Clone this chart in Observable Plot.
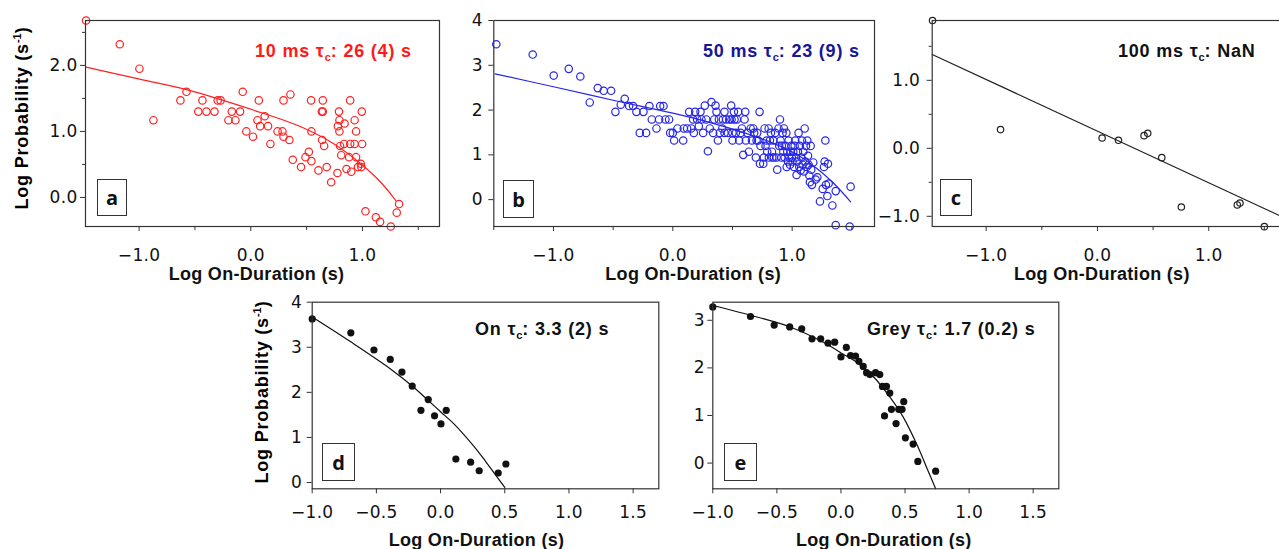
<!DOCTYPE html>
<html><head><meta charset="utf-8">
<script src="https://cdn.jsdelivr.net/npm/d3@7"></script>
<script src="https://cdn.jsdelivr.net/npm/@observablehq/plot@0.6"></script>
<style>
html,body{margin:0;padding:0;background:#fff;overflow:hidden}
#wrap{position:relative;width:1279px;height:549px;overflow:hidden;background:#fff}
.panel{position:absolute}
.panel svg{max-width:none !important}
.ann{position:absolute;font-family:"Liberation Sans",Arial,sans-serif;font-weight:bold;font-size:18px;line-height:18px;letter-spacing:0.8px;white-space:nowrap}
.ann sub{font-size:11px;line-height:0;vertical-align:-4px;letter-spacing:0}
.ytitle{position:absolute;font-family:"Liberation Sans",Arial,sans-serif;font-weight:bold;font-size:18px;line-height:18px;letter-spacing:0.8px;white-space:nowrap;transform:translate(-50%,-50%) rotate(-90deg)}
.ytitle sup{font-size:11px;line-height:0;vertical-align:7px;letter-spacing:0}
.lab{position:absolute;box-sizing:border-box;border:1.5px solid #333;background:#fff;font-family:"Open Sans",sans-serif;font-weight:bold;font-size:20px;display:flex;align-items:center;justify-content:center;color:#111}
</style></head>
<body><div id="wrap"></div>
<script>
// ---------- data ----------
const aPoints = [[-1.475,2.68],[-1.173,2.32],[-0.997,1.95],[-0.872,1.17],[-0.63,1.47],[-0.576,1.6],[-0.47,1.3],[-0.433,1.47],[-0.397,1.3],[-0.325,1.3],[-0.296,1.47],[-0.27,1.47],[-0.2,1.17],[-0.17,1.3],[-0.137,1.17],[-0.096,1.3],[-0.072,1.6],[-0.04,1.0],[0.02,0.92],[0.06,1.17],[0.072,1.47],[0.084,1.08],[0.125,1.23],[0.155,1.08],[0.176,0.81],[0.24,1.0],[0.284,1.0],[0.293,1.47],[0.293,0.92],[0.346,0.87],[0.355,1.56],[0.376,0.57],[0.45,0.46],[0.49,0.61],[0.52,0.69],[0.54,1.47],[0.543,1.0],[0.543,0.55],[0.606,0.41],[0.636,1.3],[0.645,1.3],[0.645,1.47],[0.639,0.87],[0.657,0.78],[0.68,0.46],[0.72,0.23],[0.776,0.37],[0.78,1.08],[0.79,1.3],[0.794,1.17],[0.794,1.0],[0.8,0.78],[0.81,0.64],[0.836,0.81],[0.84,1.12],[0.857,0.43],[0.88,0.61],[0.89,1.47],[0.89,0.81],[0.9,0.39],[0.93,1.17],[0.93,0.81],[0.943,1.0],[0.943,0.61],[0.96,0.46],[0.985,0.51],[0.99,0.46],[0.994,1.3],[0.997,0.81],[1.027,-0.21],[1.12,-0.3],[1.158,-0.37],[1.254,-0.44],[1.307,-0.23],[1.328,-0.1]];
const aFit = [[-1.475,1.975],[-1.045,1.81],[-0.567,1.63],[0.03,1.32],[0.448,1.07],[0.746,0.81],[0.985,0.51],[1.164,0.23],[1.30,-0.05]];

const bPoints = [[-1.479,3.47],[-1.174,3.24],[-0.998,2.77],[-0.872,2.92],[-0.775,2.75],[-0.696,2.17],[-0.629,2.49],[-0.579,2.43],[-0.517,2.43],[-0.481,1.96],[-0.436,2.12],[-0.403,2.25],[-0.366,2.09],[-0.333,2.09],[-0.305,1.96],[-0.277,1.49],[-0.246,1.96],[-0.224,1.49],[-0.196,2.09],[-0.176,1.79],[-0.137,1.59],[-0.115,1.79],[-0.106,2.09],[-0.078,2.09],[-0.062,1.79],[-0.031,1.79],[-0.022,1.49],[0.0,1.49],[0.011,1.32],[0.039,1.59],[0.087,1.32],[0.092,1.59],[0.12,1.59],[0.137,1.96],[0.154,1.59],[0.17,1.79],[0.176,1.49],[0.187,1.96],[0.204,1.79],[0.218,1.64],[0.232,1.96],[0.24,1.79],[0.254,1.49],[0.268,2.1],[0.28,1.79],[0.294,1.08],[0.31,1.59],[0.324,2.18],[0.338,1.49],[0.347,1.79],[0.358,2.1],[0.366,1.96],[0.378,1.32],[0.386,1.79],[0.394,1.49],[0.414,1.59],[0.42,1.79],[0.433,1.96],[0.433,1.49],[0.447,1.79],[0.461,1.49],[0.473,1.79],[0.489,2.1],[0.492,1.79],[0.5,1.49],[0.512,1.96],[0.517,1.79],[0.528,1.49],[0.537,1.79],[0.5,1.32],[0.548,1.96],[0.556,1.32],[0.568,1.49],[0.579,1.59],[0.59,1.0],[0.601,1.79],[0.607,1.96],[0.612,1.32],[0.626,1.49],[0.638,1.07],[0.652,1.59],[0.663,1.32],[0.674,1.59],[0.682,1.49],[0.696,0.94],[0.702,1.32],[0.707,1.49],[0.716,1.32],[0.727,1.96],[0.73,0.8],[0.735,1.2],[0.758,0.8],[0.763,0.94],[0.769,1.59],[0.777,1.2],[0.786,1.32],[0.791,1.07],[0.803,1.59],[0.805,0.94],[0.814,1.32],[0.822,1.49],[0.831,1.07],[0.833,0.94],[0.842,1.32],[0.847,0.94],[0.858,1.49],[0.87,0.94],[0.875,0.67],[0.886,1.59],[0.892,1.2],[0.898,1.79],[0.903,1.32],[0.909,0.94],[0.914,1.2],[0.92,1.49],[0.926,1.07],[0.931,1.59],[0.937,0.94],[0.945,1.2],[0.951,1.49],[0.954,0.73],[0.959,1.07],[0.965,0.85],[0.97,1.32],[0.976,0.94],[0.982,0.78],[0.987,1.07],[0.993,1.2],[0.998,0.94],[1.004,0.85],[1.009,1.07],[1.015,0.73],[1.021,1.2],[1.026,1.32],[1.032,0.94],[1.037,0.55],[1.043,0.85],[1.049,1.07],[1.054,1.49],[1.06,0.73],[1.065,1.2],[1.071,0.65],[1.077,0.94],[1.082,1.32],[1.088,0.78],[1.093,1.07],[1.099,0.63],[1.105,1.59],[1.11,0.85],[1.116,1.2],[1.121,0.73],[1.127,1.32],[1.133,0.98],[1.138,0.78],[1.144,0.54],[1.149,0.39],[1.155,1.2],[1.16,0.67],[1.166,0.33],[1.177,0.83],[1.197,0.45],[1.211,0.5],[1.233,-0.04],[1.256,0.24],[1.267,0.73],[1.272,0.85],[1.278,1.32],[1.283,0.33],[1.295,0.08],[1.3,0.8],[1.306,0.36],[1.337,-0.13],[1.365,0.19],[1.365,-0.57],[1.482,-0.6],[1.49,0.29]];
const bFit = [[-1.49,2.81],[-1.0,2.52],[-0.5,2.22],[0.0,1.93],[0.3,1.73],[0.6,1.49],[0.85,1.25],[1.05,0.99],[1.21,0.69],[1.35,0.36],[1.49,-0.05]];

const cPoints = [[-1.482,1.88],[-0.871,0.275],[0.042,0.152],[0.189,0.118],[0.419,0.186],[0.452,0.22],[0.578,-0.137],[0.754,-0.863],[1.257,-0.833],[1.281,-0.804],[1.5,-1.152]];
const cFit = [[-1.485,1.38],[1.69,-1.03]];

const dPoints = [[-1.0,3.63],[-0.699,3.32],[-0.519,2.94],[-0.392,2.73],[-0.301,2.45],[-0.221,2.14],[-0.153,1.6],[-0.096,1.84],[-0.047,1.48],[0.003,1.3],[0.044,1.6],[0.119,0.52],[0.234,0.45],[0.301,0.26],[0.449,0.21],[0.509,0.41]];
const dFit = [[-1.0,3.67],[-0.7,3.12],[-0.39,2.52],[-0.221,2.14],[-0.096,1.82],[0.0,1.57],[0.104,1.3],[0.26,0.8],[0.35,0.47],[0.5,-0.11]];

const ePoints = [[-1.0,3.28],[-0.706,3.08],[-0.521,2.9],[-0.4,2.86],[-0.306,2.82],[-0.226,2.61],[-0.158,2.61],[-0.101,2.52],[-0.049,2.54],[0.0,2.23],[0.042,2.43],[0.075,2.26],[0.114,2.25],[0.14,2.14],[0.174,2.03],[0.2,1.9],[0.226,1.86],[0.27,1.9],[0.303,1.86],[0.324,1.61],[0.355,1.61],[0.381,1.47],[0.34,0.99],[0.394,1.13],[0.43,0.83],[0.451,1.13],[0.477,1.13],[0.49,1.29],[0.503,0.53],[0.563,0.4],[0.6,0.035],[0.739,-0.17]];
const eFit = [[-1.0,3.31],[-0.656,3.07],[-0.397,2.86],[-0.137,2.54],[-0.008,2.33],[0.122,2.12],[0.252,1.82],[0.381,1.39],[0.485,0.97],[0.589,0.41],[0.667,-0.08],[0.739,-0.54]];

const xTitle = "Log On-Duration (s)";
const panelLetters = ["a","b","c","d","e"];
const annotations = [
  {pre:"10 ms τ", post:": 26 (4) s"},
  {pre:"50 ms τ", post:": 23 (9) s"},
  {pre:"100 ms τ", post:": NaN"},
  {pre:"On τ", post:": 3.3 (2) s"},
  {pre:"Grey τ", post:": 1.7 (0.2) s"}
];

// ---------- layout ----------
const wrap = document.getElementById("wrap");
const panels = [
  {pts:aPoints, fit:aFit, color:"#ff2020", fill:false, r:3.7, left:0, top:0, width:445, height:290, mL:85, mR:6, mT:20, mB:64,
   xd:[-1.48,1.69], yd:[-0.44,2.68], xMin:[-0.5,0.5,1.5], xMaj:[-1,0,1], yMin:[0.5,1.5,2.5], yMaj:[0,1,2], xFmt:".1f", yFmt:".1f", xPad:17, yPad:3, tdx:-6, tdy:53,
   ann:{x:255, y:42, color:"#ff1a1a"}, box:{x:97,y:179,w:30,h:37}},
  {pts:bPoints, fit:bFit, color:"#2626e8", fill:false, r:3.7, left:440, top:0, width:440, height:290, mL:53.3, mR:6, mT:20, mB:64,
   xd:[-1.5,1.69], yd:[-0.6,4.0], xMin:[-1.5,-0.5,0.5,1.5], xMaj:[-1,0,1], yMin:[], yMaj:[0,1,2,3,4], xFmt:".1f", yFmt:"d", xPad:17, yPad:6, tdx:9, tdy:53,
   ann:{x:703, y:42, color:"#161696"}, box:{x:503,y:180,w:31,h:38}},
  {pts:cPoints, fit:cFit, color:"#222", fill:false, r:3.2, left:860, top:0, width:430, height:290, mL:71.7, mR:5, mT:20, mB:64,
   xd:[-1.485,1.69], yd:[-1.15,1.88], xMin:[-0.5,0.5,1.5], xMaj:[-1,0,1], yMin:[-0.5,0.5,1.5], yMaj:[-1,0,1], xFmt:".1f", yFmt:".1f", xPad:17, yPad:7, tdx:-7, tdy:53,
   ann:{x:1118, y:42, color:"#111"}, box:{x:940,y:179,w:32,h:37}},
  {pts:dPoints, fit:dFit, color:"#111", fill:true, r:3.6, left:240, top:280, width:430, height:269, mL:71.7, mR:11.7, mT:21.7, mB:60.7,
   xd:[-1,1.7], yd:[-0.14,4], xMin:[], xMaj:[-1,-0.5,0,0.5,1,1.5], yMin:[], yMaj:[0,1,2,3,4], xFmt:".1f", yFmt:"d", xPad:12, yPad:5, tdx:-9, tdy:57,
   ann:{x:475, y:320, color:"#111"}, box:{x:322,y:443,w:33,h:38}},
  {pts:ePoints, fit:eFit, color:"#111", fill:true, r:3.6, left:680, top:280, width:400, height:269, mL:32.3, mR:21.7, mT:21.7, mB:60.7,
   xd:[-1,1.7], yd:[-0.54,3.38], xMin:[], xMaj:[-1,-0.5,0,0.5,1,1.5], yMin:[], yMaj:[0,1,2,3], xFmt:".1f", yFmt:"d", xPad:12, yPad:3, tdx:-2, tdy:57,
   ann:{x:867, y:320, color:"#111"}, box:{x:724,y:443,w:33,h:38}}
];

panels.forEach((p, i) => {
  const marks = [
    Plot.line(p.fit, {x: d => d[0], y: d => d[1], stroke: p.color, strokeWidth: 1.2, curve: "catmull-rom"}),
    Plot.dot(p.pts, {x: d => d[0], y: d => d[1], r: p.r,
      stroke: p.fill ? "none" : p.color, fill: p.fill ? p.color : "none", strokeWidth: 1.2}),
    Plot.frame({stroke: "#333", strokeWidth: 1.2}),
    Plot.axisX(p.xMaj, {tickSize: 5, tickPadding: p.xPad, tickFormat: d3.format(p.xFmt), label: null, fontSize: 17, stroke: "#333"}),
    Plot.axisY(p.yMaj, {tickSize: 5, tickPadding: p.yPad, tickFormat: d3.format(p.yFmt), label: null, fontSize: 17, stroke: "#333"}),
    Plot.text([xTitle], {text: d => d, frameAnchor: "bottom", dx: p.tdx, dy: p.tdy, fontWeight: "bold", fontSize: 18, fontFamily: "Liberation Sans, Arial, sans-serif", fill: "#111"})
  ];
  if (p.xMin.length) marks.push(Plot.axisX(p.xMin, {tickSize: 4, tickFormat: () => "", label: null, stroke: "#333"}));
  if (p.yMin.length) marks.push(Plot.axisY(p.yMin, {tickSize: 3, tickFormat: () => "", label: null, stroke: "#333"}));
  const svg = Plot.plot({
    width: p.width, height: p.height,
    marginLeft: p.mL, marginRight: p.mR, marginTop: p.mT, marginBottom: p.mB,
    x: {domain: p.xd}, y: {domain: p.yd},
    style: {background: "transparent", fontFamily: "DejaVu Sans, sans-serif", fontSize: "17px", color: "#111", letterSpacing: "0.3px", maxWidth: "none"},
    marks
  });
  const div = document.createElement("div");
  div.className = "panel";
  div.style.left = p.left + "px"; div.style.top = p.top + "px";
  div.style.width = p.width + "px"; div.style.height = p.height + "px";
  div.appendChild(svg);
  wrap.appendChild(div);

  const ann = document.createElement("div");
  ann.className = "ann";
  ann.style.left = p.ann.x + "px"; ann.style.top = p.ann.y + "px"; ann.style.color = p.ann.color;
  ann.innerHTML = annotations[i].pre + "<sub>c</sub>" + annotations[i].post;
  wrap.appendChild(ann);

  const box = document.createElement("div");
  box.className = "lab";
  box.style.left = p.box.x + "px"; box.style.top = p.box.y + "px";
  box.style.width = p.box.w + "px"; box.style.height = p.box.h + "px";
  box.textContent = panelLetters[i];
  wrap.appendChild(box);
});

[{x:21.5, y:118}, {x:261.5, y:392}].forEach(t => {
  const d = document.createElement("div");
  d.className = "ytitle";
  d.style.left = t.x + "px"; d.style.top = t.y + "px";
  d.innerHTML = "Log Probability (s<sup>-1</sup>)";
  wrap.appendChild(d);
});
</script></body></html>
